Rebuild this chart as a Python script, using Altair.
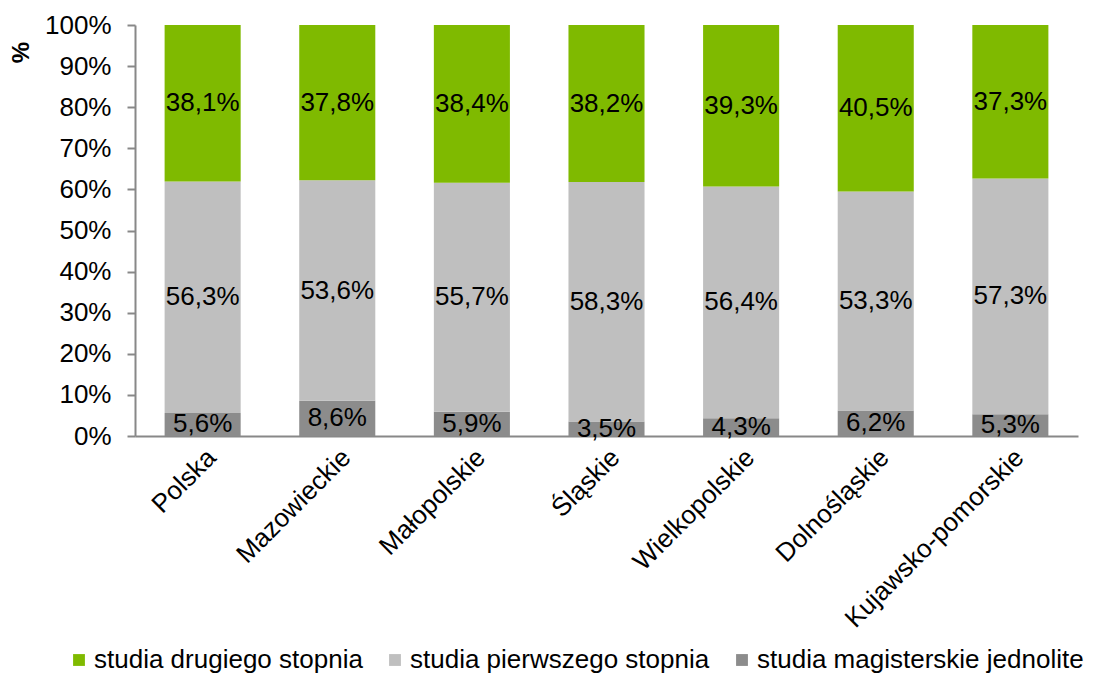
import altair as alt
import pandas as pd

categories = ["Polska", "Mazowieckie", "Małopolskie", "Śląskie", "Wielkopolskie", "Dolnośląskie", "Kujawsko-pomorskie"]
series_names = ["studia drugiego stopnia", "studia pierwszego stopnia", "studia magisterskie jednolite"]
drugiego = [38.1, 37.8, 38.4, 38.2, 39.3, 40.5, 37.3]
pierwszego = [56.3, 53.6, 55.7, 58.3, 56.4, 53.3, 57.3]
jednolite = [5.6, 8.6, 5.9, 3.5, 4.3, 6.2, 5.3]
colors = ["#7FBA00", "#BFBFBF", "#8C8C8C"]

rows = []
for i, c in enumerate(categories):
    for order, (name, vals) in enumerate([(series_names[2], jednolite), (series_names[1], pierwszego), (series_names[0], drugiego)]):
        v = vals[i]
        rows.append({"cat": c, "series": name, "value": v, "order": order,
                     "label": f"{v:.1f}%".replace(".", ",")})
df = pd.DataFrame(rows)

FONT = "Liberation Sans"
FS = 26

base = alt.Chart(df).transform_stack(
    stack="value", groupby=["cat"], as_=["y0", "y1"],
    sort=[alt.SortField("order", "ascending")], offset="normalize"
).transform_calculate(mid="(datum.y0 + datum.y1) / 2")

x = alt.X("cat:N", sort=categories, title=None,
          scale=alt.Scale(paddingInner=0.435, paddingOuter=0.22),
          axis=alt.Axis(labelAngle=-45, labelFontSize=FS, labelFont=FONT, labelColor="#000000",
                        domainColor="#888888", domainWidth=2, ticks=False, labelPadding=8,
                        labelLimit=500))

bars = base.mark_bar().encode(
    x=x,
    y=alt.Y("y0:Q", scale=alt.Scale(domain=[0, 1]),
            axis=alt.Axis(format=".0%", values=[i / 10 for i in range(11)], grid=False,
                          labelFontSize=FS, labelFont=FONT, labelColor="#000000",
                          domainColor="#888888", domainWidth=2, tickColor="#888888", tickSize=8,
                          tickWidth=2, labelPadding=16,
                          title="%", titleFont=FONT, titleFontSize=24, titleFontWeight="bold",
                          titleAngle=-90, titleX=-114, titleY=27, titleAlign="center",
                          titleBaseline="middle", titleColor="#000000")),
    y2="y1:Q",
    color=alt.Color("series:N", scale=alt.Scale(domain=series_names, range=colors),
                    legend=alt.Legend(title=None, orient="none", direction="horizontal",
                                      legendX=-69, legendY=622, symbolType="square", symbolSize=140,
                                      symbolStrokeWidth=0, labelFontSize=26, labelFont=FONT,
                                      labelColor="#000000", columnPadding=19, labelOffset=2,
                                      labelLimit=500))
)

text = base.mark_text(fontSize=FS, font=FONT, color="#000000", baseline="middle").encode(
    x=alt.X("cat:N", sort=categories),
    y=alt.Y("mid:Q"),
    text="label:N"
)

chart = (bars + text).properties(
    width=943, height=411,
    autosize=alt.AutoSizeParams(type="none"),
    padding={"left": 127, "top": 17, "right": 11, "bottom": 240}
).configure_view(stroke=None)

chart.save("out.html", embed_options={"renderer": "svg", "actions": False})
